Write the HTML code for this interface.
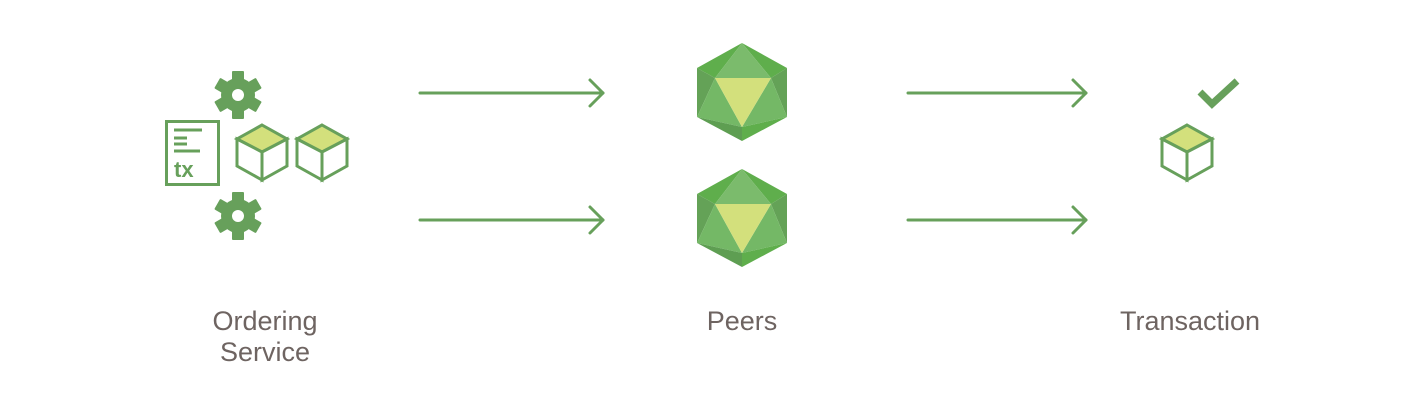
<!DOCTYPE html>
<html><head><style>
html,body{margin:0;padding:0;background:#fff;}
svg{display:block;}
text{font-family:"Liberation Sans",sans-serif;fill:#6e6461;font-size:27px;}
</style></head><body>
<svg width="1420" height="400" viewBox="0 0 1420 400" xmlns="http://www.w3.org/2000/svg">
<defs>
<g id="gear">
<circle r="17" fill="#67a05b"/>
<g fill="#67a05b">
<rect x="-6" y="-24" width="12" height="12" rx="1"/>
<rect x="-6" y="-24" width="12" height="12" rx="1" transform="rotate(60)"/>
<rect x="-6" y="-24" width="12" height="12" rx="1" transform="rotate(120)"/>
<rect x="-6" y="-24" width="12" height="12" rx="1" transform="rotate(180)"/>
<rect x="-6" y="-24" width="12" height="12" rx="1" transform="rotate(240)"/>
<rect x="-6" y="-24" width="12" height="12" rx="1" transform="rotate(300)"/>
</g>
<circle r="6" fill="#fff"/>
</g>
<g id="cube" stroke="#67a05b" stroke-width="3" stroke-linejoin="miter">
<polygon points="0,-27 25,-13 0,0 -25,-13" fill="#d3e07c"/>
<polygon points="-25,-13 0,0 0,28 -25,14" fill="#fff"/>
<polygon points="25,-13 0,0 0,28 25,14" fill="#fff"/>
</g>
<g id="ico">
<polygon points="0,0 -45,25 -27,35" fill="#5fae4c"/>
<polygon points="0,0 45,25 29,35" fill="#5fae4c"/>
<polygon points="0,0 -27,35 29,35" fill="#7bbb6c"/>
<polygon points="-45,25 -27,35 -45,74" fill="#64a257"/>
<polygon points="45,25 29,35 45,74" fill="#64a257"/>
<polygon points="-27,35 0,84 -45,74" fill="#74b866"/>
<polygon points="29,35 0,84 45,74" fill="#74b866"/>
<polygon points="-45,74 0,84 0,98" fill="#5e9e52"/>
<polygon points="45,74 0,84 0,98" fill="#5fae4c"/>
<polygon points="-27,35 29,35 0,84" fill="#d3e07c"/>
</g>
<g id="arrow" fill="none" stroke="#67a05b" stroke-width="3" stroke-linecap="round" stroke-linejoin="round">
<line x1="0" y1="0" x2="183" y2="0"/>
<polyline points="170,-13 183,0 170,13"/>
</g>
<g id="arrow2" fill="none" stroke="#67a05b" stroke-width="3" stroke-linecap="round" stroke-linejoin="round">
<line x1="0" y1="0" x2="178" y2="0"/>
<polyline points="165,-13 178,0 165,13"/>
</g>
</defs>

<use href="#gear" x="238" y="95"/>
<use href="#gear" x="238" y="216"/>
<rect x="166.5" y="121.5" width="52" height="63" fill="#fff" stroke="#67a05b" stroke-width="3"/>
<g stroke="#67a05b" stroke-width="3">
<line x1="174" y1="130" x2="202" y2="130"/>
<line x1="174" y1="138" x2="187" y2="138"/>
<line x1="174" y1="144" x2="187" y2="144"/>
<line x1="174" y1="151" x2="200" y2="151"/>
</g>
<text x="174" y="177" style="fill:#67a05b;font-size:22px;font-weight:bold;">tx</text>
<use href="#cube" x="262" y="152"/>
<use href="#cube" x="322" y="152"/>

<use href="#arrow" x="420" y="93"/>
<use href="#arrow" x="420" y="220"/>
<use href="#ico" x="742" y="43"/>
<use href="#ico" x="742" y="169"/>
<use href="#arrow2" x="908" y="93"/>
<use href="#arrow2" x="908" y="220"/>

<use href="#cube" x="1187" y="152"/>
<polyline points="1200,92 1212,104 1237,81" fill="none" stroke="#67a05b" stroke-width="7"/>

<text x="265" y="330" text-anchor="middle">Ordering</text>
<text x="265" y="361" text-anchor="middle">Service</text>
<text x="742" y="330" text-anchor="middle">Peers</text>
<text x="1190" y="330" text-anchor="middle">Transaction</text>
</svg>
</body></html>
